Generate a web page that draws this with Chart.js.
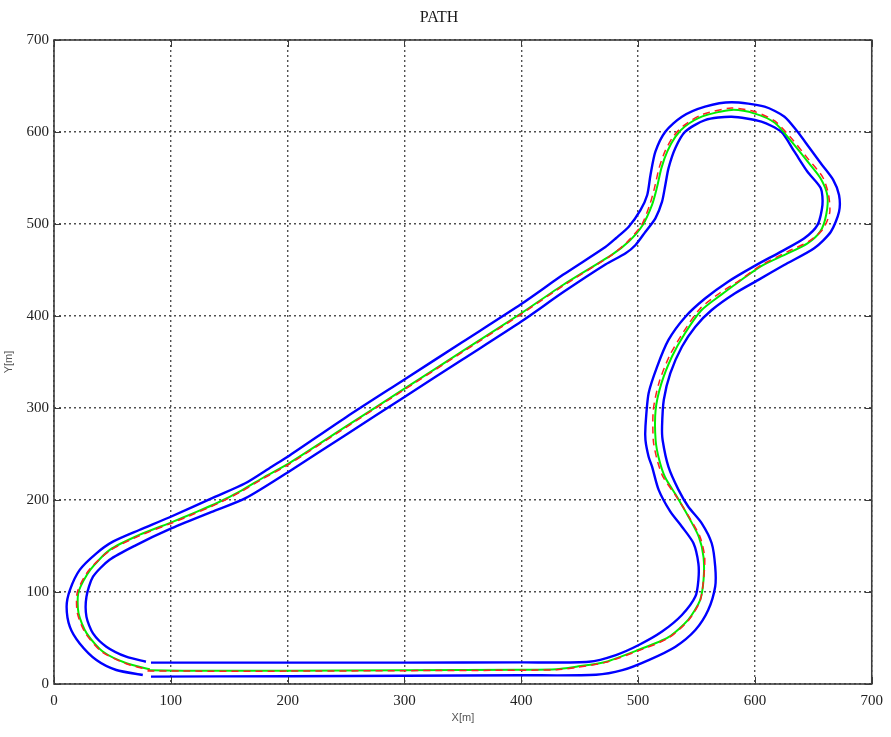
<!DOCTYPE html>
<html>
<head>
<meta charset="utf-8">
<title>PATH</title>
<script src="https://cdn.jsdelivr.net/npm/chart.js@4/dist/chart.umd.min.js"></script>
<style>
  html, body { margin: 0; padding: 0; background: #ffffff; }
  #wrap { width: 891px; height: 737px; }
</style>
</head>
<body>
<div id="wrap"><canvas id="c" width="891" height="737"></canvas></div>
<script>
// Track geometry in metres, listed in driving order (counter-clockwise),
// starting at the left end of the bottom straight.

// Reference path (red, dashed)
const referencePath = [
  [80,14],[110,14],[200,14],[300,14.5],[400,15],[430,15.5],[447,18],[472,23.5],
  [500,36],[526,50],[543,69],[553,90],[556,113],[557,138],[553,160],[543,183],
  [532,205],[521,226],[516,245],[513,265],[513,298],[518,328],[527,357],[539,383],
  [553,408],[570,425],[586,438],[605,455],[628,470],[646,481],[658,494],[664,512],
  [663,532],[658,551],[646,570],[632,592],[617,612],[600,622],[580,626],[555,619],
  [539,607],[530,595],[523,579],[518,561],[514,539],[510,521],[503,499],[491,481],
  [477,466],[436,433],[400,402],[350,361],[300,320],[250,279],[200,238],[180,224],
  [160,209],[140,196],[120,185],[101,175],[73,161],[48,145],[30,124],[20,100],
  [20,77],[27,55],[41,35],[62,22],[82,15]
];

// Driven path (green, solid)
const drivenPath = [
  [82,15],[110,14.5],[200,14.5],[300,15],[400,15.5],[430,16],[447,18.8],[472,24],
  [500,37],[526,51],[543,70],[553,91],[556,113],[556,138],[552,160],[543,182],
  [533,204],[523,225],[518,244],[515,265],[515,298],[520,327],[529,356],[540,381],
  [554,406],[571,423],[586,437],[605,454],[628,468],[645,479],[656,492],[661,510],
  [662,531],[656,550],[645,568],[631,590],[617,610],[600,620],[580,624],[555,617],
  [540,606],[532,595],[525,579],[520,561],[516,539],[512,521],[504,499],[492,481],
  [478,467],[436,434],[400,403],[350,362],[300,321],[250,280],[200,239],[180,225],
  [160,210],[140,197],[120,186],[101,176],[73,162],[48,146],[31,124],[21,100],
  [21,77],[28,55],[42,35],[62,22.5],[82,16]
];

// Outer track edge (blue)
const outerEdge = [
  [83,8],[200,8.5],[300,9],[400,9.5],[464,10],[486.5,15],[509,26],[532,40.6],
  [549,58.7],[560,80.4],[566,106],[566,127.5],[563,153],[554.5,174.7],[543,192.7],
  [534.6,211],[526,236],[521,265],[520.5,280],[522,309],[527.6,338],[537.5,366.6],
  [549,388.4],[563,406.5],[583,424.7],[602.6,439],[625,455.4],[650.7,473.6],
  [665,491.6],[672,513.4],[672,531.5],[667,548],[657,565],[646,584],[636,601],
  [625.3,616.6],[608.3,627.5],[580,632.3],[557.3,627.5],[537.5,616.6],[523.3,600.3],
  [514.8,578.6],[510.6,553.3],[507.8,531.5],[502,515],[492,497],[481,484.5],
  [472,475],[436,445],[400,413],[350,372],[300,331],[250,290],
  [200,247],[186.3,236.2],[163.7,218.2],[138.2,203.6],[98.5,181],[73,167.4],
  [50.4,154.7],[36.3,142],[22,124],[13.6,102],[10.8,84],[13.6,62],[22,44],
  [36.3,26],[53.3,15.2],[76,9.8]
];

// Inner track edge (blue)
const innerEdge = [
  [83,23.2],[200,23.2],[300,23.2],[400,23.5],[458,24.2],[481,31.5],[500.6,42.4],
  [520.5,57],[537.5,75],[549,95],[551.6,113],[551.6,131],[547.4,153],[537.5,171],
  [527.6,187.3],[517.6,211],[512,236],[509,247],[506.3,265],[506.3,280],[509,316],
  [516.3,345],[526,374],[540.3,399],[557.3,419],[577,437.3],[599.8,454.5],
  [622.4,470],[642.3,484.5],[653.6,499],[657.8,520.7],[656.4,538.8],[645,556.8],
  [633.8,578.6],[622.4,600.3],[605.5,611.2],[580,616.6],[557.3,613],[540.3,600.3],
  [531.8,582.3],[526,560.5],[523.3,542.4],[520.5,524.3],[514.8,506.2],[506.3,491.6],
  [497.8,477.2],[489.3,468.2],[472,456],[436,426],[400,394],[350,353],
  [300,312],[250,271],[200,230],[164,202],[135,187],[98.5,168],
  [70.3,151],[47.6,135],[33.4,116.6],[27.8,95],[27.8,73],[33.4,55],[44.8,40.6],
  [61.8,29.7],[78.7,24.2]
];

// Axis ticks
const xTicks = [0, 100, 200, 300, 400, 500, 600, 700];
const yTicks = [0, 100, 200, 300, 400, 500, 600, 700];

const toXY = pts => pts.map(([x, y]) => ({ x, y }));

// Solid box around the plot area with short inward tick marks on all sides
const axesBox = {
  id: 'axesBox',
  afterDatasetsDraw(chart) {
    const { ctx, chartArea: a, scales: { x, y } } = chart;
    ctx.save();
    ctx.strokeStyle = '#3c3c3c';
    ctx.lineWidth = 1;
    ctx.beginPath();
    xTicks.forEach(v => {
      const p = Math.round(x.getPixelForValue(v)) + 0.5;
      ctx.moveTo(p, a.bottom); ctx.lineTo(p, a.bottom - 7);
      ctx.moveTo(p, a.top); ctx.lineTo(p, a.top + 7);
    });
    yTicks.forEach(v => {
      const p = Math.round(y.getPixelForValue(v)) + 0.5;
      ctx.moveTo(a.left, p); ctx.lineTo(a.left + 7, p);
      ctx.moveTo(a.right, p); ctx.lineTo(a.right - 7, p);
    });
    ctx.stroke();
    ctx.lineWidth = 1.6;
    ctx.strokeRect(a.left, a.top, a.right - a.left, a.bottom - a.top);
    ctx.restore();
  }
};

const tickFont = { family: "'Liberation Serif', 'Times New Roman', serif", size: 15 };
const labelFont = { family: "'Liberation Sans', Arial, sans-serif", size: 11 };

new Chart(document.getElementById('c'), {
  type: 'scatter',
  data: {
    datasets: [
      {
        label: 'Reference',
        data: toXY(referencePath),
        showLine: true,
        borderColor: '#ff2020',
        borderWidth: 1.5,
        borderDash: [7, 5],
        pointRadius: 0,
        tension: 0.25,
        order: 0
      },
      {
        label: 'Driven',
        data: toXY(drivenPath),
        showLine: true,
        borderColor: '#00ee00',
        borderWidth: 2,
        pointRadius: 0,
        tension: 0.25,
        order: 1
      },
      {
        label: 'Outer edge',
        data: toXY(outerEdge),
        showLine: true,
        borderColor: '#0000ff',
        borderWidth: 2.4,
        pointRadius: 0,
        tension: 0.25,
        order: 2
      },
      {
        label: 'Inner edge',
        data: toXY(innerEdge),
        showLine: true,
        borderColor: '#0000ff',
        borderWidth: 2.4,
        pointRadius: 0,
        tension: 0.25,
        order: 2
      }
    ]
  },
  options: {
    responsive: false,
    animation: false,
    devicePixelRatio: 1,
    layout: { padding: { left: 0, right: 13, top: 0, bottom: 0 } },
    plugins: {
      legend: { display: false },
      tooltip: { enabled: false },
      title: {
        display: true,
        text: 'PATH',
        color: '#1a1a1a',
        font: { family: "'Liberation Serif', 'Times New Roman', serif", size: 16, weight: 'normal' },
        padding: { top: 8, bottom: 12.8 }
      }
    },
    scales: {
      x: {
        type: 'linear',
        min: 0,
        max: 700,
        afterBuildTicks: s => { s.ticks = xTicks.map(v => ({ value: v })); },
        ticks: { color: '#222', font: tickFont, padding: 8, maxRotation: 0, autoSkip: false },
        grid: { color: '#505050', lineWidth: 1.4, drawTicks: false },
        border: { display: false, dash: [2, 3] },
        title: { display: true, text: 'X[m]', color: '#555', font: labelFont, padding: { top: 2, bottom: 12 } },
        afterFit: s => { s.height = 53; }
      },
      y: {
        type: 'linear',
        min: 0,
        max: 700,
        afterBuildTicks: s => { s.ticks = yTicks.map(v => ({ value: v })); },
        ticks: { color: '#222', font: tickFont, padding: 5, autoSkip: false },
        grid: { color: '#505050', lineWidth: 1.4, drawTicks: false },
        border: { display: false, dash: [2, 3] },
        title: { display: true, text: 'Y[m]', color: '#555', font: labelFont, padding: { top: 2, bottom: 2 } },
        afterFit: s => { s.width = 54; }
      }
    }
  },
  plugins: [axesBox]
});
</script>
</body>
</html>
